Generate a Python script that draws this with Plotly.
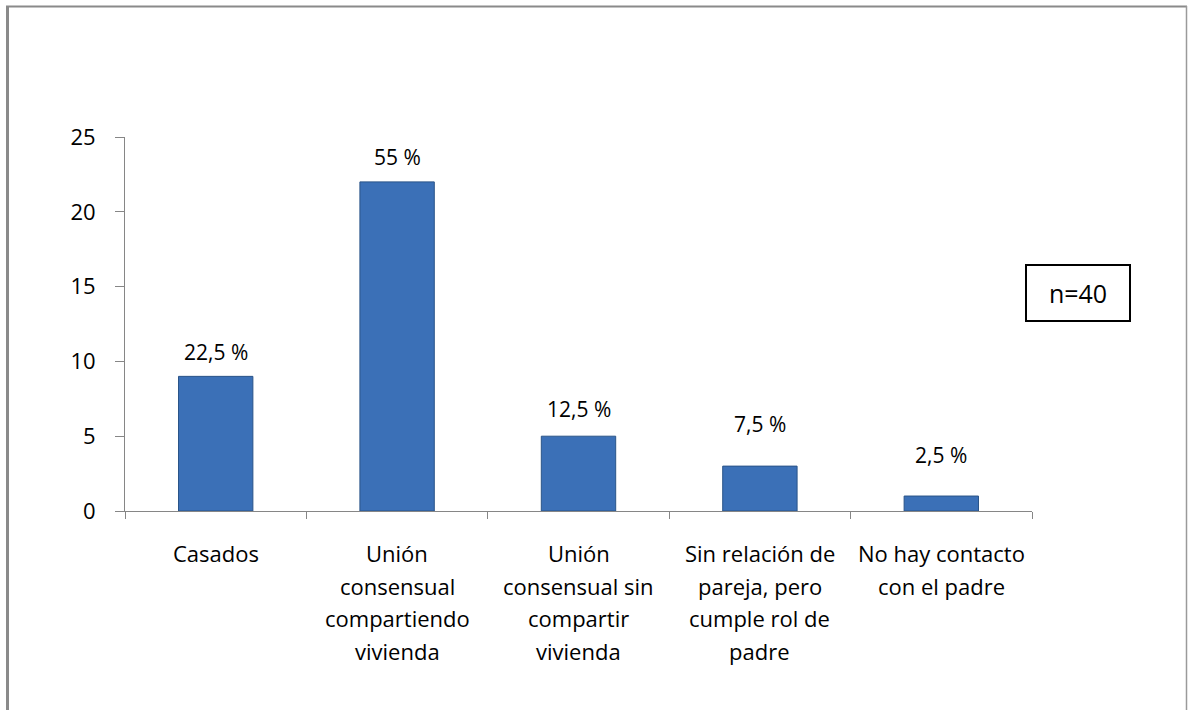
import plotly.graph_objects as go

categories = ["Casados",
              "Unión<br>consensual<br>compartiendo<br>vivienda",
              "Unión<br>consensual sin<br>compartir<br>vivienda",
              "Sin relación de<br>pareja, pero<br>cumple rol de<br>padre",
              "No hay contacto<br>con el padre"]
values = [9, 22, 5, 3, 1]
pct_labels = ["22,5 %", "55 %", "12,5 %", "7,5 %", "2,5 %"]
label_shift = [24, 25, 27, 42, 41]
y_ticks = [0, 5, 10, 15, 20, 25]
note = "n=40"

FONT = "Open Sans"
W, H = 1189, 710
L, R, T, B = 125, 157, 137, 199
pw, ph = W - L - R, H - T - B

def px_x(px):
    return (px - L) / pw

def px_y(py):
    return (H - B - py) / ph

fig = go.Figure()
fig.add_trace(go.Bar(
    x=categories, y=values, width=0.41,
    marker=dict(color="#3B70B7", line=dict(color="#2A5488", width=1)),
    hoverinfo="skip",
))

for c, v, t, s in zip(categories, values, pct_labels, label_shift):
    fig.add_annotation(x=c, y=v, text=t, showarrow=False, yanchor="middle",
                       yshift=s, font=dict(family=FONT, size=21, color="#000"))

for c in categories:
    for i, line in enumerate(c.split("<br>")):
        fig.add_annotation(x=c, y=0, yref="paper", text=line, showarrow=False,
                           yanchor="middle", yshift=-42 - 32.5 * i,
                           font=dict(family=FONT, size=22, color="#000"))

# note box
fig.add_annotation(x=px_x(1078), y=px_y(293), xref="paper", yref="paper",
                   text=note, showarrow=False, xanchor="center", yanchor="middle",
                   font=dict(family=FONT, size=25, color="#000"),
                   bordercolor="#000", borderwidth=2, width=100, height=52,
                   bgcolor="white")

# outer frame
frame = "#8a8a8a"
fig.add_shape(type="line", xref="paper", yref="paper",
              x0=px_x(7.5), x1=px_x(7.5), y0=px_y(6), y1=px_y(715),
              line=dict(color=frame, width=3))
fig.add_shape(type="line", xref="paper", yref="paper",
              x0=px_x(6), x1=px_x(1187), y0=px_y(6.5), y1=px_y(6.5),
              line=dict(color=frame, width=2))
fig.add_shape(type="line", xref="paper", yref="paper",
              x0=px_x(1186.5), x1=px_x(1186.5), y0=px_y(6), y1=px_y(715),
              line=dict(color="#9a9a9a", width=1.5))

fig.update_layout(
    width=W, height=H,
    margin=dict(l=L, r=R, t=T, b=B),
    paper_bgcolor="white", plot_bgcolor="white",
    showlegend=False,
    font=dict(family=FONT, size=20, color="#000"),
    bargap=0.59,
)
fig.update_xaxes(
    type="category", range=[-0.5, 4.5], showticklabels=False,
    showline=True, linecolor="#868686", linewidth=1,
    ticks="outside", tickson="boundaries", ticklen=7, tickcolor="#868686",
    showgrid=False, zeroline=False,
)
fig.update_yaxes(
    range=[0, 25], tickvals=y_ticks, showline=True, linecolor="#868686",
    linewidth=1, ticks="outside", ticklen=9, tickcolor="#868686",
    showgrid=False, zeroline=False, ticklabelstandoff=15,
    tickfont=dict(family=FONT, size=22, color="#000"),
)

fig.write_html("out.html", config={"displayModeBar": False},
               post_script="document.body.style.margin='0';document.body.style.overflow='hidden';")
